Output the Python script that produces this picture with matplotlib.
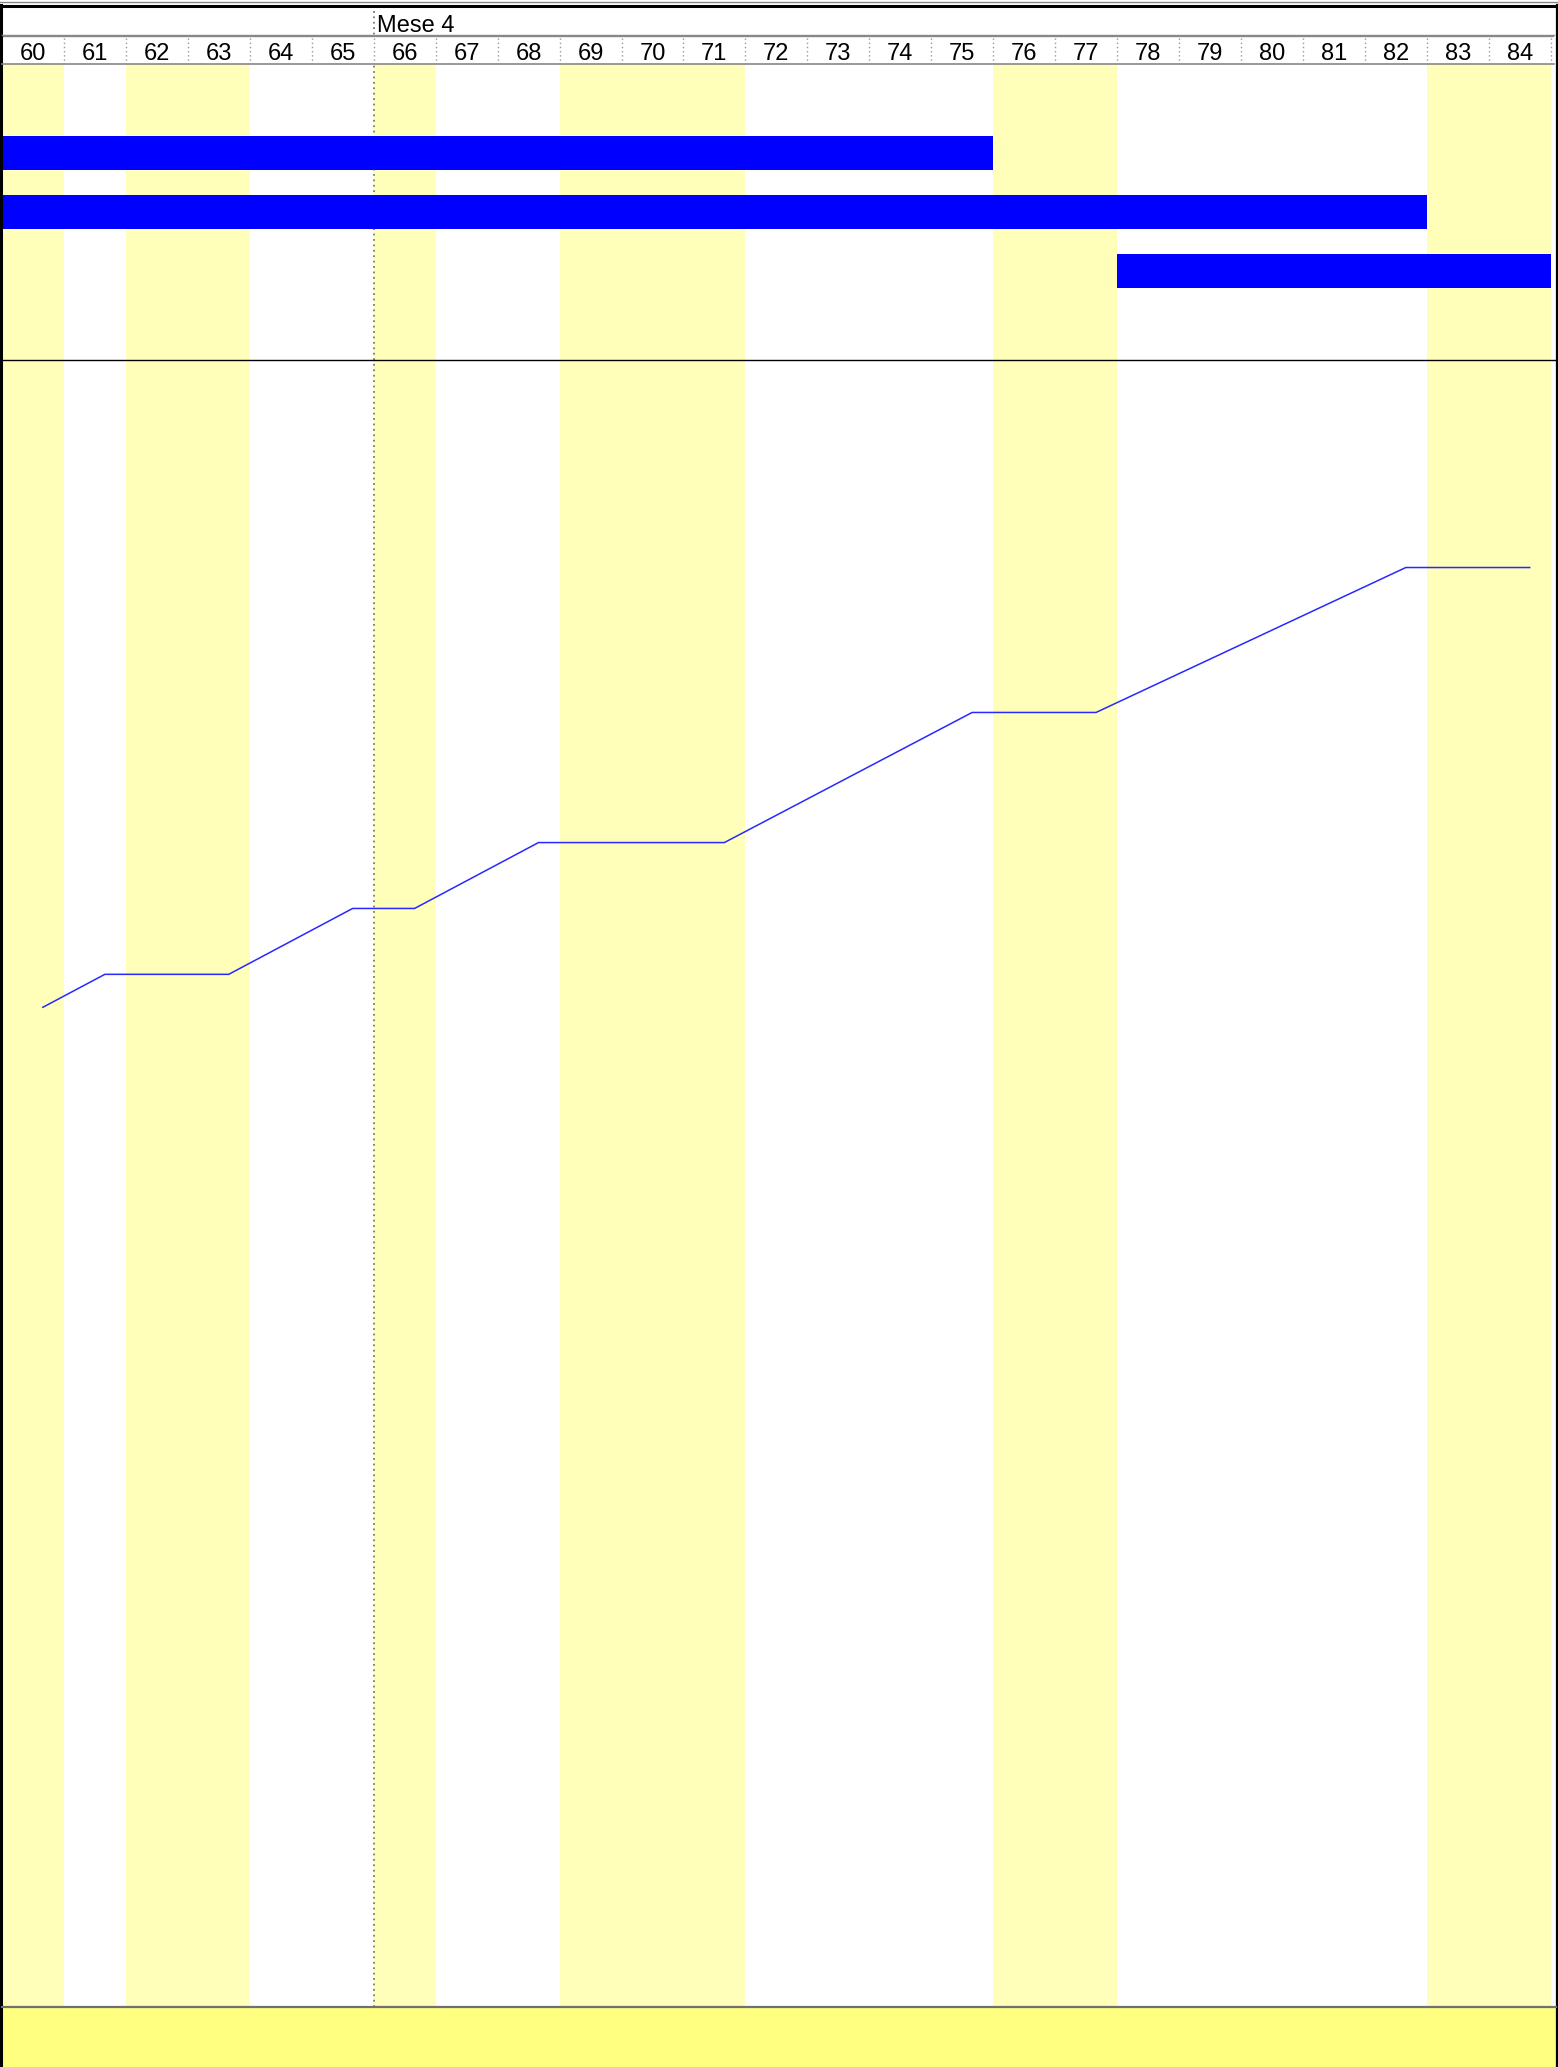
#!/usr/bin/env python
# -*- coding: utf-8 -*-
"""
Diagramma di Gantt con curva di avanzamento cumulato (giorni 60-84, Mese 4)
"""

import matplotlib
matplotlib.use('Agg')
import matplotlib.pyplot as plt
from matplotlib.lines import Line2D

# giorni visibili e giorni non lavorativi (colonne gialle)
days = list(range(60, 85))
non_working_days = [60, 62, 63, 66, 69, 70, 71, 76, 77, 83, 84]
month_label = 'Mese 4'
month_start_day = 66

# attività: riga, inizio, fine (in giorni)
task_rows = [1, 2, 3]
task_starts = [59, 59, 78]
task_ends = [76, 83, 85]

# curva di avanzamento cumulato (%)
progress_x = [60.66, 61.66, 63.66, 65.66, 66.66, 68.66, 71.66, 75.66, 77.66, 82.66, 84.66]
progress_y = [60.7, 62.7, 62.7, 66.7, 66.7, 70.7, 70.7, 78.6, 78.6, 87.4, 87.4]

W, H = 1558, 2067
DAY_PX = 61.95
X0, X1 = 2, 1554
XLIM = (60, 60 + (X1 - X0) / DAY_PX)

plt.rcParams['font.family'] = ['Liberation Sans', 'DejaVu Sans']

fig = plt.figure(figsize=(W / 100, H / 100), dpi=100)


def px_axes(x0, y0, x1, y1, face='white'):
    """crea un Axes a partire da coordinate in pixel (origine in alto a sinistra)"""
    ax = fig.add_axes([x0 / W, 1 - y1 / H, (x1 - x0) / W, (y1 - y0) / H])
    ax.set_facecolor(face)
    ax.set_xticks([])
    ax.set_yticks([])
    for s in ax.spines.values():
        s.set_visible(False)
    return ax


def px_line(x0, y0, x1, y1, color='black', lw=0.72, ls='-'):
    fig.add_artist(Line2D([x0 / W, x1 / W], [1 - y0 / H, 1 - y1 / H],
                          transform=fig.transFigure, color=color, lw=lw, ls=ls))


def shade_days(ax):
    for d in non_working_days:
        ax.axvspan(d, d + 1, color='#FFFFBA', lw=0, zorder=0)
    ax.axvline(month_start_day, color='#7a7a7a', lw=1.3, ls=(0, (1, 2)), zorder=1)


# intestazione (due righe: mese / giorni)
hdr = px_axes(X0, 7, X1, 64)
hdr.set_xlim(*XLIM)
hdr.set_ylim(2, 0)
hdr.text(month_start_day + 0.05, 0.88, month_label, ha='left', va='baseline', fontsize=17)
hdr.plot([month_start_day, month_start_day], [0.15, 1], color='#7a7a7a', lw=1.3, ls=(0, (1, 2)))
for d in days:
    hdr.text(d + 0.5, 1.86, str(d), ha='center', va='baseline', fontsize=17)
    hdr.plot([d + 1, d + 1], [1.1, 1.9], color='#999999', lw=1.0, ls=(0, (1, 2)))
hdr.axhline(1, color='#888888', lw=1.0)

# gantt
gantt = px_axes(X0, 64, X1, 360)
gantt.set_xlim(*XLIM)
gantt.set_ylim(4.5, -0.5)
shade_days(gantt)
gantt.barh(task_rows, [e - s for s, e in zip(task_starts, task_ends)], left=task_starts,
           height=0.58, color='#0000FF', zorder=3)

# curva avanzamento
prog = px_axes(X0, 360, X1, 2007)
prog.set_xlim(*XLIM)
prog.set_ylim(0, 100)
shade_days(prog)
prog.plot(progress_x, progress_y, color='#2828FF', lw=1.1, zorder=3)

# piede
foot = px_axes(X0, 2008, 1556, H, face='#FFFF80')

# bordi e separatori
px_line(0, 1.5, W, 1.5, color='#888888', lw=1.0)
px_line(0, 6, 1557, 6, color='black', lw=2.2)
px_line(1, 5, 1, H, color='black', lw=2.2)
px_line(1556.5, 5, 1556.5, H, color='black', lw=1.6)
px_line(X0, 35, X1, 35, color='#888888', lw=1.0)
px_line(X0, 64, X1, 64, color='#888888', lw=1.2)
px_line(X0, 360, 1556, 360, color='black', lw=1.0)
px_line(X0, 2007, 1556, 2007, color='#707070', lw=1.6)

plt.savefig('out.png', dpi=100)
